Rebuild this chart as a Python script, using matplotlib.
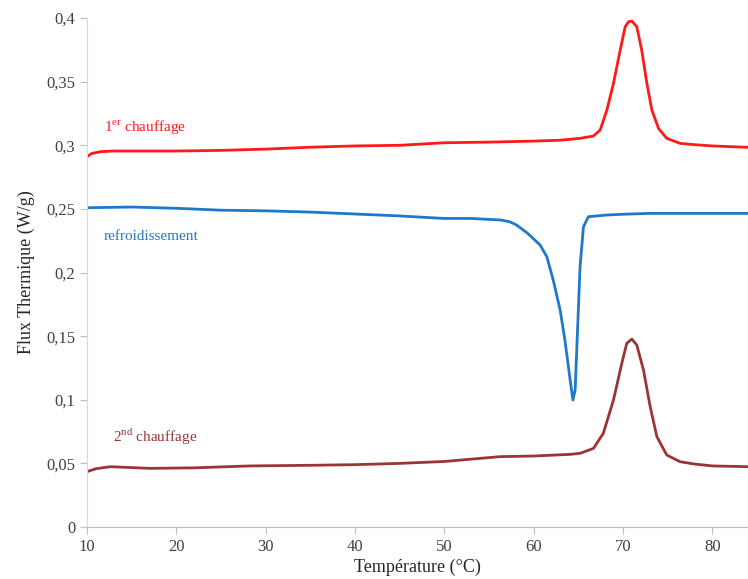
import matplotlib
matplotlib.use("Agg")
import matplotlib.pyplot as plt
from matplotlib.ticker import FuncFormatter

plt.rcParams['font.family'] = ['Liberation Serif', 'DejaVu Serif']
plt.rcParams['mathtext.fontset'] = 'custom'
plt.rcParams['mathtext.rm'] = 'Liberation Serif'

# 1er chauffage
x1 = [10, 10.5, 11.5, 13, 20, 25, 30, 35, 40, 45, 50, 55, 60, 63, 65.2, 66.7, 67.45,
      68.2, 68.94, 69.69, 70.25, 70.62, 71.0, 71.55, 72.1, 72.68, 73.24, 73.98, 74.9,
      76.4, 78, 80, 84]
y1 = [0.291, 0.2935, 0.2950, 0.2955, 0.2955, 0.296, 0.297, 0.2985, 0.2995, 0.300, 0.302,
      0.3025, 0.3033, 0.304, 0.3055, 0.3073, 0.312, 0.3277, 0.3487, 0.3748, 0.3932,
      0.3971, 0.3976, 0.3932, 0.3748, 0.3487, 0.3277, 0.3133, 0.3055, 0.3015, 0.3005,
      0.2995, 0.2984]

# refroidissement
x2 = [10, 15, 20, 25, 30, 35, 40, 45, 50, 53, 56.3, 57.3, 58.1, 59.3, 60.73, 61.48,
      62.2, 62.97, 63.5, 64.09, 64.4, 64.65, 64.9, 65.2, 65.58, 66.14, 68.2, 70, 73, 84]
y2 = [0.2509, 0.2515, 0.2505, 0.249, 0.2485, 0.2475, 0.246, 0.2445, 0.2425, 0.2425,
      0.2413, 0.240, 0.2373, 0.231, 0.2216, 0.2124, 0.194, 0.1705, 0.147, 0.1155, 0.0998,
      0.1077, 0.152, 0.2046, 0.236, 0.2439, 0.2452, 0.2458, 0.2465, 0.2465]

# 2nd chauffage
x3 = [10, 11, 12.6, 17, 22, 28.25, 35, 40, 45, 50, 56.25, 60, 64.1, 65.2, 66.7, 67.8,
      68.94, 69.87, 70.43, 71.0, 71.55, 72.3, 73.05, 73.8, 74.9, 76.4, 78, 80, 84]
y3 = [0.0435, 0.0458, 0.0474, 0.0461, 0.0465, 0.048, 0.0485, 0.049, 0.050, 0.0515,
      0.0553, 0.0558, 0.0571, 0.0579, 0.0618, 0.0736, 0.0998, 0.1286, 0.1444, 0.1477,
      0.143, 0.1234, 0.0945, 0.071, 0.0566, 0.0513, 0.0495, 0.048, 0.0474]

red = '#ff1a1a'
blue = '#1f78c8'
brown = '#9b3434'

fig = plt.figure(figsize=(7.48, 5.79), dpi=100)
ax = fig.add_axes([0.1163, 0.0898, 0.8837, 0.879])

for xs, ys, c in [(x1, y1, red), (x2, y2, blue), (x3, y3, brown)]:
    ax.plot(xs, ys, color=c, lw=2, solid_joinstyle='round', solid_capstyle='round')

ax.text(11.9, 0.3105, r"1$^{\mathrm{er}}$ chauffage", color=red, fontsize=11)
ax.text(11.9, 0.2255, "refroidissement", color=blue, fontsize=11)
ax.text(12.9, 0.0665, r"2$^{\mathrm{nd}}$ chauffage", color=brown, fontsize=11)

ax.set_xlim(10, 84)
ax.set_ylim(0, 0.4)
ax.set_xticks([10, 20, 30, 40, 50, 60, 70, 80])
ax.set_yticks([0, 0.05, 0.1, 0.15, 0.2, 0.25, 0.3, 0.35, 0.4])
ax.yaxis.set_major_formatter(FuncFormatter(lambda v, p: f"{v:g}".replace('.', ',')))

for s in ['top', 'right']:
    ax.spines[s].set_visible(False)
ax.spines['left'].set_color('#d9d9d9')
ax.spines['bottom'].set_color('#bfbfbf')
ax.tick_params(axis='both', colors='#bfbfbf', labelcolor='#404040', labelsize=12,
               length=5, direction='out')

ax.set_xlabel("Température (°C)", fontsize=13, color='#262626', labelpad=3)
ax.set_ylabel("Flux Thermique (W/g)", fontsize=13, color='#262626', labelpad=8)

fig.savefig("out.png", dpi=100)
